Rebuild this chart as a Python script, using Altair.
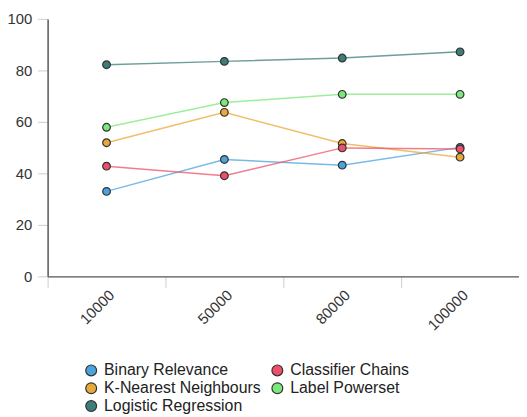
import altair as alt
import pandas as pd

sizes = ["10000", "50000", "80000", "100000"]
# legend order (column-major in the two-column legend)
series = ["Binary Relevance", "K-Nearest Neighbours", "Logistic Regression", "Classifier Chains", "Label Powerset"]
colors = ["#4aa3dd", "#e9a83a", "#3b7d78", "#ee5069", "#7ce87c"]

binary_relevance = [33.0, 45.4, 43.2, 50.1]
knn = [51.9, 63.7, 51.6, 46.3]
logistic_regression = [82.2, 83.5, 84.8, 87.2]
classifier_chains = [42.8, 39.1, 49.9, 49.5]
label_powerset = [57.9, 67.5, 70.7, 70.7]

vals = [binary_relevance, knn, logistic_regression, classifier_chains, label_powerset]
rows = []
for name, v in zip(series, vals):
    for s, y in zip(sizes, v):
        rows.append({"size": s, "model": name, "value": y})
df = pd.DataFrame(rows)

font = "Liberation Sans"

x = alt.X("size:N", sort=sizes, title=None,
          scale=alt.Scale(paddingInner=0, paddingOuter=0),
          axis=alt.Axis(labelAngle=-45, labelFontSize=15, labelColor="#333",
                        labelFont=font, tickBand="extent", tickSize=11,
                        tickColor="#ccc", domainColor="#555", domainWidth=1.5,
                        labelPadding=0, grid=False))
y = alt.Y("value:Q", title=None, scale=alt.Scale(domain=[0, 100]),
          axis=alt.Axis(values=[0, 20, 40, 60, 80, 100], labelFontSize=15,
                        labelColor="#333", labelFont=font, tickSize=10,
                        tickColor="#ccc", domainColor="#555", domainWidth=1.5,
                        labelPadding=6, grid=False))

stroke = alt.Stroke("model:N", scale=alt.Scale(domain=series, range=colors), legend=None)
fill = alt.Fill("model:N", scale=alt.Scale(domain=series, range=colors), title=None,
                legend=alt.Legend(orient="none", legendX=36, legendY=347, columns=2,
                                  labelFontSize=16, labelFont=font, labelColor="#222",
                                  symbolType="circle", symbolSize=120,
                                  symbolOpacity=1,
                                  symbolStrokeColor="#333", symbolStrokeWidth=1.2,
                                  rowPadding=2, columnPadding=8, labelOffset=5))

lines = alt.Chart(df).mark_line(strokeWidth=1.5, opacity=0.75).encode(x=x, y=y, stroke=stroke)
points = alt.Chart(df).mark_point(filled=True, size=60, stroke="#333", strokeWidth=1.2,
                                  opacity=1).encode(x=x, y=y, fill=fill)

chart = alt.layer(lines, points).resolve_scale(stroke="independent", fill="independent").properties(
    width=476, height=260,
    padding={"left": 40, "top": 9, "right": 0, "bottom": 140},
    autosize=alt.AutoSizeParams(type="none"),
).configure_view(stroke=None)

chart.save("out.html", embed_options={"renderer": "svg", "actions": False})
